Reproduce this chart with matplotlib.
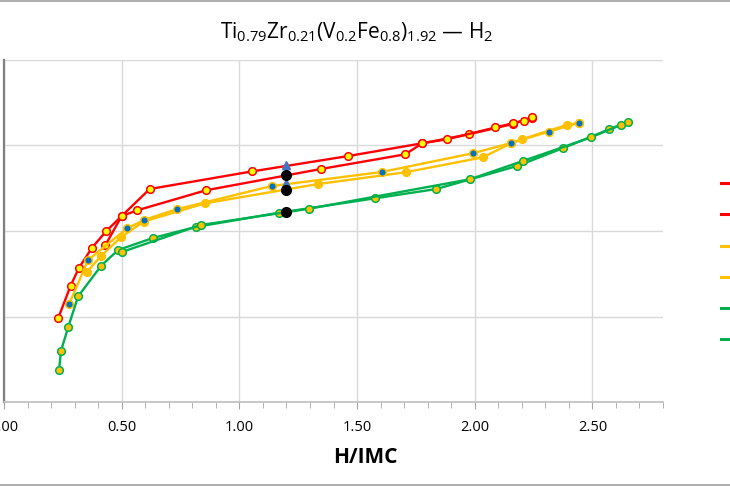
import numpy as np
import matplotlib
matplotlib.use('Agg')
import matplotlib.pyplot as plt
from matplotlib.lines import Line2D
from matplotlib.patches import Rectangle
from matplotlib.ticker import MultipleLocator, FormatStrFormatter

plt.rcParams['font.family'] = ['Open Sans', 'DejaVu Sans']
plt.rcParams['mathtext.default'] = 'regular'

###############################################################################
# Data
###############################################################################
# Red pair ---------------------------------------------------------------------
red_a_x = [0.431, 0.500, 0.619, 1.052, 1.463, 1.777, 1.883, 2.088, 2.161, 2.208, 2.243]
red_a_y = [1.836, 2.175, 2.491, 2.696, 2.877, 3.026, 3.073, 3.211, 3.260, 3.290, 3.333]
red_b_x = [0.230, 0.283, 0.319, 0.374, 0.435, 0.500, 0.566, 0.858, 1.346, 1.705, 1.777, 1.975, 2.161, 2.242]
red_b_y = [0.979, 1.360, 1.571, 1.805, 2.000, 2.175, 2.242, 2.476, 2.725, 2.897, 3.026, 3.131, 3.251, 3.327]
# Yellow pair ------------------------------------------------------------------
yel_a_x = [0.277, 0.357, 0.524, 0.594, 0.733, 1.137, 1.605, 1.992, 2.154, 2.314, 2.445]
yel_a_y = [1.146, 1.661, 2.032, 2.129, 2.254, 2.526, 2.690, 2.909, 3.029, 3.161, 3.269]
yel_b_x = [0.353, 0.414, 0.496, 0.594, 0.855, 1.336, 1.706, 2.035, 2.154, 2.200, 2.391, 2.445]
yel_b_y = [1.524, 1.711, 1.926, 2.111, 2.324, 2.550, 2.687, 2.862, 3.026, 3.073, 3.240, 3.265]
# Green pair -------------------------------------------------------------------
grn_a_x = [0.234, 0.242, 0.273, 0.315, 0.413, 0.485, 0.633, 0.814, 1.169, 1.576, 1.837, 2.180, 2.377, 2.571, 2.650]
grn_a_y = [0.374, 0.596, 0.877, 1.236, 1.594, 1.778, 1.918, 2.047, 2.214, 2.382, 2.491, 2.760, 2.971, 3.189, 3.272]
grn_b_x = [0.500, 0.836, 1.297, 1.979, 2.205, 2.493, 2.620]
grn_b_y = [1.754, 2.070, 2.261, 2.605, 2.819, 3.094, 3.240]
# Single points at H/IMC = 1.2 -------------------------------------------------
dot_x = [1.2, 1.2, 1.2]
dot_y = [2.651, 2.485, 2.219]
tri_x = [1.2, 1.2]
tri_y = [2.768, 2.567]

labels = ['Absorption 1', 'Desorption 1', 'Absorption 2', 'Desorption 2',
          'Absorption 3', 'Desorption 3']

###############################################################################
# Colors
###############################################################################
C_RED, C_YEL, C_GRN = '#FF0000', '#FFC000', '#00B050'
C_BLU, C_TRI, C_FILL = '#0070C0', '#4472C4', '#FFFF00'

###############################################################################
# Plot
###############################################################################
fig = plt.figure(figsize=(7.30, 4.86), dpi=100)
ax = fig.add_axes([4/730, 84/486, 659/730, 342/486])

lw, ms, mew = 1.7, 5.5, 1.1
ax.plot(red_b_x, red_b_y, color=C_RED, lw=lw, marker='o', ms=ms,
        mfc=C_FILL, mec=C_RED, mew=mew, zorder=3)
ax.plot(red_a_x, red_a_y, color=C_RED, lw=lw, marker='o', ms=ms,
        mfc=C_FILL, mec=C_RED, mew=mew, zorder=3)
ax.plot(yel_b_x, yel_b_y, color=C_YEL, lw=lw, marker='o', ms=ms,
        mfc=C_YEL, mec=C_YEL, mew=mew, zorder=3)
ax.plot(yel_a_x, yel_a_y, color=C_YEL, lw=lw, marker='o', ms=ms,
        mfc=C_BLU, mec=C_YEL, mew=mew, zorder=3)
ax.plot(grn_a_x, grn_a_y, color=C_GRN, lw=lw, marker='o', ms=ms,
        mfc=C_YEL, mec=C_GRN, mew=mew, zorder=3)
ax.plot(grn_b_x, grn_b_y, color=C_GRN, lw=lw, marker='o', ms=ms,
        mfc=C_YEL, mec=C_GRN, mew=mew, zorder=3)
ax.plot(tri_x, tri_y, ls='none', marker='^', ms=6, color=C_TRI, zorder=4)
ax.plot(dot_x, dot_y, ls='none', marker='o', ms=7, color='black', zorder=5)

# Axes -------------------------------------------------------------------------
ax.set_xlim(0, 2.8)
ax.set_ylim(0, 4)
ax.xaxis.set_major_locator(MultipleLocator(0.5))
ax.xaxis.set_minor_locator(MultipleLocator(0.1))
ax.xaxis.set_major_formatter(FormatStrFormatter('%.2f'))
ax.yaxis.set_major_locator(MultipleLocator(1))
ax.grid(True, which='major', color='#D9D9D9', lw=1)
ax.set_axisbelow(True)
for s in ['top', 'right']:
    ax.spines[s].set_visible(False)
ax.spines['left'].set_color('#808080')
ax.spines['left'].set_linewidth(1.6)
ax.spines['bottom'].set_color('#BFBFBF')
ax.spines['bottom'].set_linewidth(1.2)
ax.tick_params(axis='x', which='both', direction='out', color='#A6A6A6',
               labelsize=10.5, labelcolor='#000000', pad=8)
ax.tick_params(axis='x', which='major', length=5)
ax.tick_params(axis='x', which='minor', length=4)
ax.tick_params(axis='y', left=False, labelleft=False)

# Texts ------------------------------------------------------------------------
fig.text(357/730, 1 - 32/486,
         r'Ti$_{0.79}$Zr$_{0.21}$(V$_{0.2}$Fe$_{0.8}$)$_{1.92}$ — H$_2$',
         ha='center', va='center', fontsize=15, color='#000000')
fig.text(365/730, 1 - 457/486, 'H/IMC', ha='center', va='center',
         fontsize=15, fontweight='bold', color='#000000')

# Legend (cut off at the right edge, as in the picture) ------------------------
handles = [Line2D([], [], color=c, lw=2.2)
           for c in [C_RED, C_RED, C_YEL, C_YEL, C_GRN, C_GRN]]
fig.legend(handles, labels, loc='upper left',
           bbox_to_anchor=(721/730, 1 - 177/486), frameon=False,
           borderpad=0, borderaxespad=0, handlelength=2.0,
           fontsize=10, labelspacing=1.17)

# Chart border -----------------------------------------------------------------
fig.add_artist(Rectangle((-0.05, 1/486), 1.1, 1 - 2.5/486,
                         transform=fig.transFigure, fill=False,
                         edgecolor='#A0A0A0', lw=1.2))

plt.savefig('out.png', dpi=100)
plt.close('all')
